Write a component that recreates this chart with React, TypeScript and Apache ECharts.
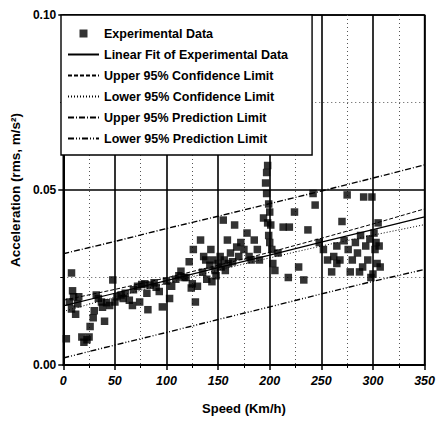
import React, { useEffect, useRef } from "react";
import * as echarts from "echarts";

const speeds: number[] = [
  3, 8, 9, 10, 6, 8, 12, 14, 15, 18, 20, 23, 25, 26, 29, 30, 32, 34, 37, 38, 40, 42, 45, 48, 50,
  52, 56, 58, 60, 64, 67, 68, 72, 74, 76, 79, 81, 82, 84, 88, 90, 93, 96, 100, 103, 105, 109, 112,
  114, 117, 119, 122, 124, 125, 126, 128, 130, 133, 135, 136, 138, 139, 142, 143, 144, 145, 147,
  148, 150, 152, 153, 155, 156, 157, 159, 160, 162, 164, 166, 168, 170, 172, 175, 178, 180, 182,
  185, 188, 190, 194, 196, 197, 198, 197, 199, 200, 198, 201, 199, 200, 202, 203, 205, 208, 213,
  218, 219, 224, 228, 233, 237, 242, 244, 248, 252, 256, 260, 262, 265, 268, 270, 272, 275, 276,
  278, 280, 283, 285, 288, 290, 291, 293, 295, 297, 299, 300, 301, 302, 304, 305, 306, 303, 298,
  307, 265, 287,
];
const accels: number[] = [
  0.0075, 0.0263, 0.0212, 0.0195, 0.018, 0.016, 0.0145, 0.0175, 0.0195, 0.008, 0.0065, 0.0072,
  0.008, 0.011, 0.0135, 0.0155, 0.02, 0.019, 0.018, 0.0165, 0.0125, 0.0178, 0.017, 0.0243, 0.018,
  0.0195, 0.02, 0.019, 0.0205, 0.0185, 0.017, 0.0215, 0.0225, 0.018, 0.023, 0.0232, 0.0205,
  0.0158, 0.0228, 0.0235, 0.0222, 0.021, 0.0166, 0.024, 0.019, 0.0225, 0.0245, 0.0255, 0.0268,
  0.025, 0.025, 0.0295, 0.022, 0.0232, 0.033, 0.018, 0.0225, 0.0357, 0.0265, 0.031, 0.03, 0.0245,
  0.0285, 0.033, 0.0238, 0.03, 0.027, 0.0255, 0.029, 0.031, 0.028, 0.0414, 0.03, 0.027, 0.0357,
  0.029, 0.032, 0.0295, 0.04, 0.0337, 0.031, 0.035, 0.033, 0.0377, 0.031, 0.03, 0.0357, 0.033,
  0.03, 0.042, 0.052, 0.055, 0.057, 0.049, 0.046, 0.0437, 0.0406, 0.04, 0.037, 0.035, 0.033,
  0.029, 0.027, 0.032, 0.0394, 0.025, 0.0394, 0.0437, 0.028, 0.0243, 0.0386, 0.049, 0.0457, 0.035,
  0.033, 0.03, 0.0266, 0.031, 0.034, 0.03, 0.041, 0.0355, 0.0486, 0.033, 0.0266, 0.03, 0.035,
  0.032, 0.037, 0.028, 0.048, 0.034, 0.03, 0.036, 0.048, 0.026, 0.0377, 0.033, 0.029, 0.0406,
  0.034, 0.035, 0.025, 0.028, 0.029, 0.0266,
];

const lineX: number[] = [0, 50, 100, 150, 200, 250, 300, 350];
const fitY: number[] = [0.0169, 0.0205, 0.0241, 0.0278, 0.0314, 0.0351, 0.0387, 0.0423];
const upperConfY: number[] = [0.0185, 0.0216, 0.0249, 0.0285, 0.0322, 0.0362, 0.0403, 0.0446];
const lowerConfY: number[] = [0.0153, 0.0194, 0.0233, 0.0271, 0.0306, 0.034, 0.0371, 0.0401];
const upperPredY: number[] = [0.0318, 0.0353, 0.039, 0.0425, 0.0461, 0.0497, 0.0534, 0.0572];
const lowerPredY: number[] = [0.002, 0.0057, 0.0093, 0.013, 0.0166, 0.0203, 0.0239, 0.0273];

const seriesNames: string[] = [
  "Experimental Data",
  "Linear Fit of Experimental Data",
  "Upper 95% Confidence Limit",
  "Lower 95% Confidence Limit",
  "Upper 95% Prediction Limit",
  "Lower 95% Prediction Limit",
];

const FONT = "'Liberation Sans', Arial, sans-serif";

export default function App() {
  const ref = useRef<HTMLDivElement>(null);
  useEffect(() => {
    if (!ref.current) return;
    const chart = echarts.init(ref.current, undefined, { renderer: "svg" });
    const pts = speeds.map((s, i) => [s, accels[i]]);
    const mk = (ys: number[]) => lineX.map((x, i) => [x, ys[i]]);
    const lineSeries = (name: string, ys: number[], type: any, width: number) => ({
      name,
      type: "line",
      data: mk(ys),
      symbol: "none",
      showSymbol: false,
      itemStyle: { color: "#000" },
      lineStyle: { color: "#000", width, type },
      z: 3,
    });
    chart.setOption({
      animation: false,
      backgroundColor: "#fff",
      textStyle: { fontFamily: FONT },
      grid: {
        left: 61,
        right: 6,
        top: 15,
        bottom: 57,
        show: true,
        borderColor: "#000",
        borderWidth: 1.5,
        containLabel: false,
      },
      legend: {
        orient: "vertical",
        left: 61,
        top: 15,
        data: [
          {
            name: seriesNames[0],
            icon: "path://M0,0L10,0L10,10L0,10Z",
            itemStyle: { color: "#000" },
          },
          ...seriesNames.slice(1).map((n) => ({
            name: n,
            itemStyle: { color: "rgba(0,0,0,0)", borderWidth: 0, opacity: 0 },
          })),
        ],
        symbolKeepAspect: true,
        itemWidth: 31,
        itemHeight: 8,
        itemGap: 8,
        padding: [12, 24, 10, 6],
        backgroundColor: "#fff",
        borderColor: "#000",
        borderWidth: 1.4,
        borderRadius: 0,
        textStyle: { fontFamily: FONT, fontWeight: "bold", fontSize: 12.5, color: "#000" },
        z: 10,
      },
      xAxis: {
        type: "value",
        min: 0,
        max: 350,
        interval: 50,
        name: "Speed (Km/h)",
        nameLocation: "middle",
        nameGap: 37,
        nameTextStyle: { fontFamily: FONT, fontWeight: "bold", fontSize: 13, color: "#000" },
        axisLine: { show: true, onZero: false, lineStyle: { color: "#000", width: 2 } },
        axisTick: { show: true, length: 5, lineStyle: { color: "#000", width: 1.5 } },
        minorTick: { show: true, splitNumber: 2, length: 3, lineStyle: { color: "#000" } },
        axisLabel: {
          fontFamily: FONT,
          fontWeight: "bold",
          fontStyle: "italic",
          fontSize: 12.5,
          color: "#000",
          margin: 9,
        },
        splitLine: { show: true, lineStyle: { color: "#000", width: 1.6 } },
        minorSplitLine: { show: true, lineStyle: { color: "#555", width: 1, type: [1, 3] } },
      },
      yAxis: {
        type: "value",
        min: 0,
        max: 0.1,
        interval: 0.05,
        name: "Acceleration (rms, m/s\u00B2)",
        nameLocation: "middle",
        nameGap: 35,
        nameTextStyle: { fontFamily: FONT, fontWeight: "bold", fontSize: 13.5, color: "#000" },
        axisLine: { show: true, onZero: false, lineStyle: { color: "#000", width: 2 } },
        axisTick: { show: true, length: 5, lineStyle: { color: "#000", width: 1.5 } },
        minorTick: { show: true, splitNumber: 2, length: 3, lineStyle: { color: "#000" } },
        axisLabel: {
          fontFamily: FONT,
          fontWeight: "bold",
          fontSize: 12,
          color: "#000",
          margin: 7,
          formatter: (v: number) => v.toFixed(2),
        },
        splitLine: { show: true, lineStyle: { color: "#000", width: 1.6 } },
        minorSplitLine: { show: true, lineStyle: { color: "#555", width: 1, type: [1, 3] } },
      },
      series: [
        {
          name: seriesNames[0],
          type: "scatter",
          data: pts,
          symbol: "rect",
          symbolSize: 7.5,
          itemStyle: { color: "#000" },
          z: 4,
        },
        lineSeries(seriesNames[1], fitY, "solid", 1.2),
        lineSeries(seriesNames[2], upperConfY, [4, 2], 1),
        lineSeries(seriesNames[3], lowerConfY, [1, 2], 1),
        lineSeries(seriesNames[4], upperPredY, [6, 2, 1, 2], 1.4),
        lineSeries(seriesNames[5], lowerPredY, [6, 2, 1, 2, 1, 2], 1.4),
      ],
    });
    return () => chart.dispose();
  }, []);
  return <div ref={ref} style={{ width: 438, height: 422, position: "absolute", left: 0, top: 0 }} />;
}
